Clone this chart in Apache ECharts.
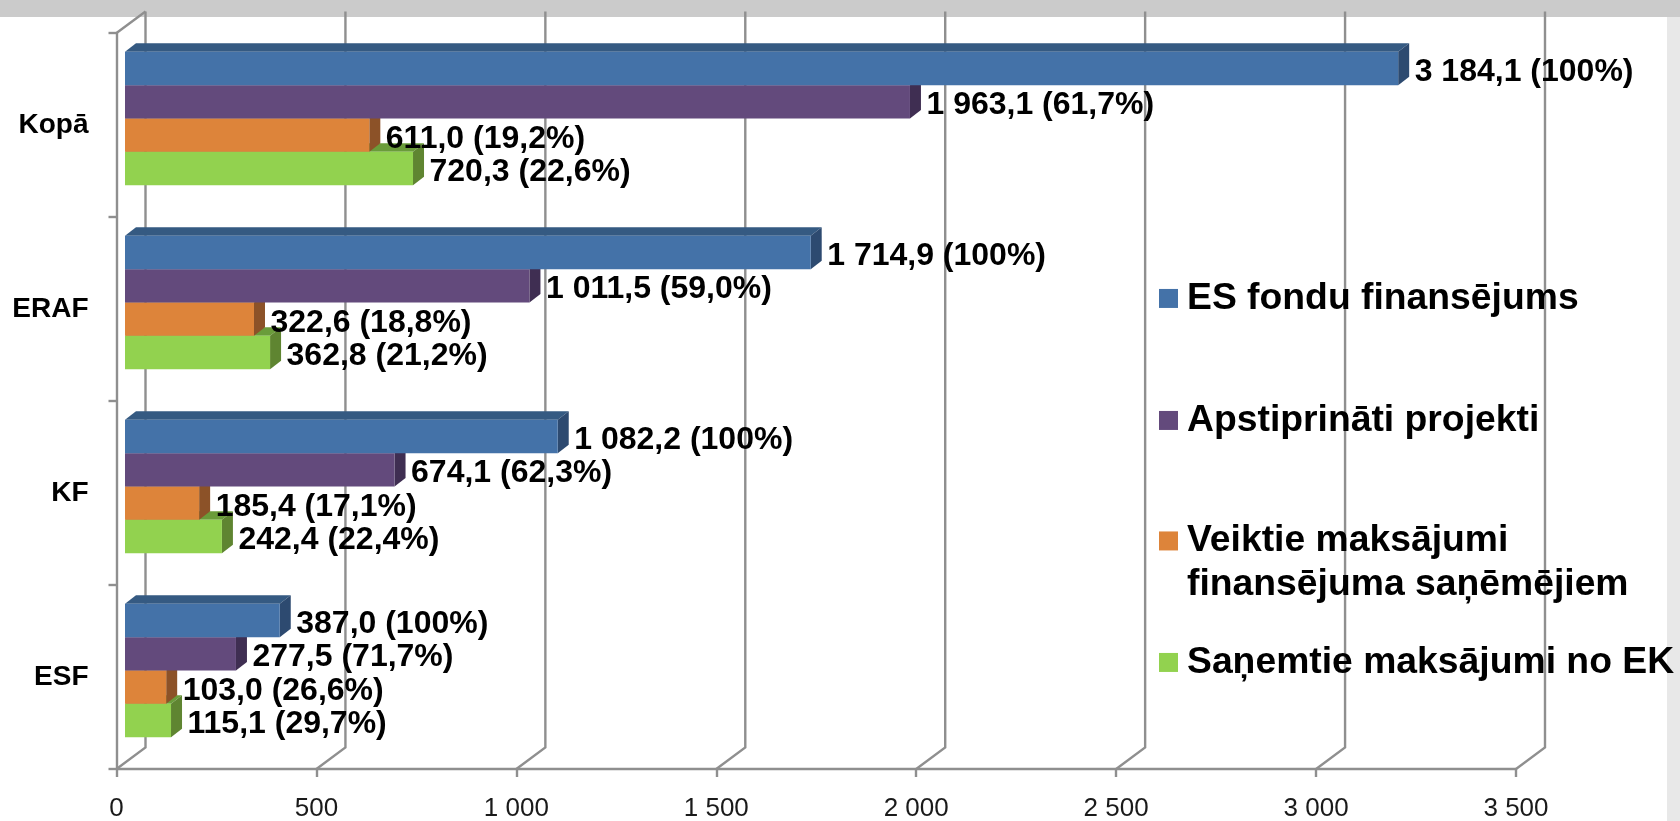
<!DOCTYPE html>
<html>
<head>
<meta charset="utf-8">
<style>html,body{margin:0;padding:0;background:#fff;overflow:hidden}#c{width:1680px;height:821px}</style>
<script src="https://cdn.jsdelivr.net/npm/echarts@6/dist/echarts.min.js"></script>
</head>
<body>
<div id="c"></div>
<script>
const categories = ['Kopā', 'ERAF', 'KF', 'ESF'];
const xTicks = [0, 500, 1000, 1500, 2000, 2500, 3000, 3500];
const seriesNames = ['ES fondu finansējums', 'Apstiprināti projekti', 'Veiktie maksājumi\nfinansējuma saņēmējiem', 'Saņemtie maksājumi no EK'];
const funding = [3184.1, 1714.9, 1082.2, 387.0];
const approved = [1963.1, 1011.5, 674.1, 277.5];
const paid = [611.0, 322.6, 185.4, 103.0];
const received = [720.3, 362.8, 242.4, 115.1];
const fundingPct = ['100%', '100%', '100%', '100%'];
const approvedPct = ['61,7%', '59,0%', '62,3%', '71,7%'];
const paidPct = ['19,2%', '18,8%', '17,1%', '26,6%'];
const receivedPct = ['22,6%', '21,2%', '22,4%', '29,7%'];

const values = [funding, approved, paid, received];
const pcts = [fundingPct, approvedPct, paidPct, receivedPct];
const faceColors = [
  {front: '#4472a8', top: '#355a82', side: '#2d4a70'},
  {front: '#634a7c', top: '#4a3760', side: '#3f2e52'},
  {front: '#dd843a', top: '#a8642c', side: '#8c5228'},
  {front: '#92d24f', top: '#6a9c3a', side: '#5f8531'}
];
const legendCenters = [298.7, 420.7, 541.7, 662.7];
const AXIS = '#8f8f8f', FONT = '"Liberation Sans", Arial, sans-serif';
const WALL = [29, -21.5];
const DEPTH = [11, -8.5];
const INSET = [8.5, -6.5];
const BAR_SHARE = 33.35 / 184;

function fmtNum(v) {
  const p = v.toFixed(1).split('.');
  return p[0].replace(/\B(?=(\d{3})+$)/g, ' ') + ',' + p[1];
}
function fmtTick(v) { return String(v).replace(/\B(?=(\d{3})+$)/g, ' '); }

function barGeom(api, i) {
  const end = api.coord([api.value(0), api.value(1)]);
  const start = api.coord([0, api.value(1)]);
  const h = api.size([0, 1])[1] * BAR_SHARE;
  const yTop = end[1] + INSET[1] + (i - 2) * h;
  return {x0: start[0] + INSET[0], x1: end[0] + INSET[0], yTop, yBot: yTop + h, h};
}
function poly(points, fill, z2) {
  return {type: 'polygon', z2: z2, shape: {points}, style: {fill}};
}

const barSeries = values.map((vals, i) => ({
  type: 'custom',
  name: seriesNames[i],
  z: 8 - i,
  silent: true,
  itemStyle: {color: faceColors[i].front},
  encode: {x: 0, y: 1},
  data: vals.map((v, c) => [v, c]),
  renderItem(params, api) {
    const g = barGeom(api, i), c = faceColors[i], dx = DEPTH[0], dy = DEPTH[1];
    return {type: 'group', children: [
      poly([[g.x0, g.yTop], [g.x1, g.yTop], [g.x1 + dx, g.yTop + dy], [g.x0 + dx, g.yTop + dy]], c.top, 1),
      poly([[g.x1, g.yTop], [g.x1 + dx, g.yTop + dy], [g.x1 + dx, g.yBot + dy], [g.x1, g.yBot]], c.side, 1),
      poly([[g.x0, g.yTop], [g.x1, g.yTop], [g.x1, g.yBot], [g.x0, g.yBot]], c.front, 2)
    ]};
  }
}));

const labelSeries = values.map((vals, i) => ({
  type: 'custom',
  z: 20,
  silent: true,
  encode: {x: 0, y: 1},
  data: vals.map((v, c) => [v, c]),
  renderItem(params, api) {
    const g = barGeom(api, i);
    const c = params.dataIndex;
    return {type: 'text', style: {
      x: g.x1 + DEPTH[0] + 5.5,
      y: (g.yTop + g.yBot) / 2 + 3.5,
      text: fmtNum(api.value(0)) + ' (' + pcts[i][c] + ')',
      font: 'bold 32px ' + FONT,
      fill: '#000',
      align: 'left',
      verticalAlign: 'middle'
    }};
  }
}));

const wallSeries = {
  type: 'custom',
  z: 1,
  silent: true,
  encode: {x: 0},
  data: xTicks.map(v => [v]),
  renderItem(params, api) {
    const x = api.coord([api.value(0), 0])[0];
    const cs = params.coordSys, bottom = cs.y + cs.height, top = cs.y;
    const st = {stroke: AXIS, lineWidth: 2.4, fill: null};
    const kids = [{type: 'polyline', shape: {points: [[x, bottom], [x + WALL[0], bottom + WALL[1]], [x + WALL[0], top + WALL[1]]]}, style: st}];
    if (api.value(0) === 0) {
      kids.push({type: 'polyline', shape: {points: [[x, top], [x + WALL[0], top + WALL[1]]]}, style: st});
    }
    return {type: 'group', children: kids};
  }
};

const chart = echarts.init(document.getElementById('c'), null, {renderer: 'canvas'});
chart.setOption({
  animation: false,
  backgroundColor: '#ffffff',
  tooltip: {show: false},
  graphic: {elements: [
    {type: 'rect', z: -10, shape: {x: 0, y: 0, width: 1680, height: 17}, style: {fill: '#cbcbcb'}},
    {type: 'rect', z: -10, shape: {x: 1667, y: 17, width: 13, height: 804}, style: {fill: '#e8e8e8'}}
  ]},
  grid: {left: 116.5, right: 164, top: 33, bottom: 52, outerBoundsMode: 'none'},
  xAxis: {
    type: 'value', min: 0, max: 3500, interval: 500,
    axisLine: {show: true, onZero: false, lineStyle: {color: AXIS, width: 2.4}},
    axisTick: {show: true, length: 8, lineStyle: {color: AXIS, width: 2.4}},
    splitLine: {show: false},
    axisLabel: {formatter: fmtTick, color: '#1a1a1a', fontFamily: FONT, fontSize: 26, margin: 26.5, hideOverlap: false}
  },
  yAxis: {
    type: 'category', inverse: true, data: categories,
    axisLine: {show: true, lineStyle: {color: AXIS, width: 2.4}},
    axisTick: {show: true, length: 8, lineStyle: {color: AXIS, width: 2.4}},
    splitLine: {show: false},
    axisLabel: {color: '#000', fontFamily: FONT, fontWeight: 'bold', fontSize: 28, margin: 28}
  },
  legend: seriesNames.map((name, i) => ({
    data: [name],
    orient: 'vertical',
    left: 1159,
    top: legendCenters[i] - (i === 2 ? 66 : 22),
    padding: 0,
    icon: 'rect',
    itemWidth: 19,
    itemHeight: 19,
    selectedMode: false,
    formatter: n => (i === 2 ? '\n' : '') + n,
    textStyle: {fontFamily: FONT, fontWeight: 'bold', fontSize: 37.3, lineHeight: 43.5, color: '#000', padding: [0, 0, 0, 4]}
  })),
  series: [wallSeries].concat(barSeries, labelSeries)
});
</script>
</body>
</html>
